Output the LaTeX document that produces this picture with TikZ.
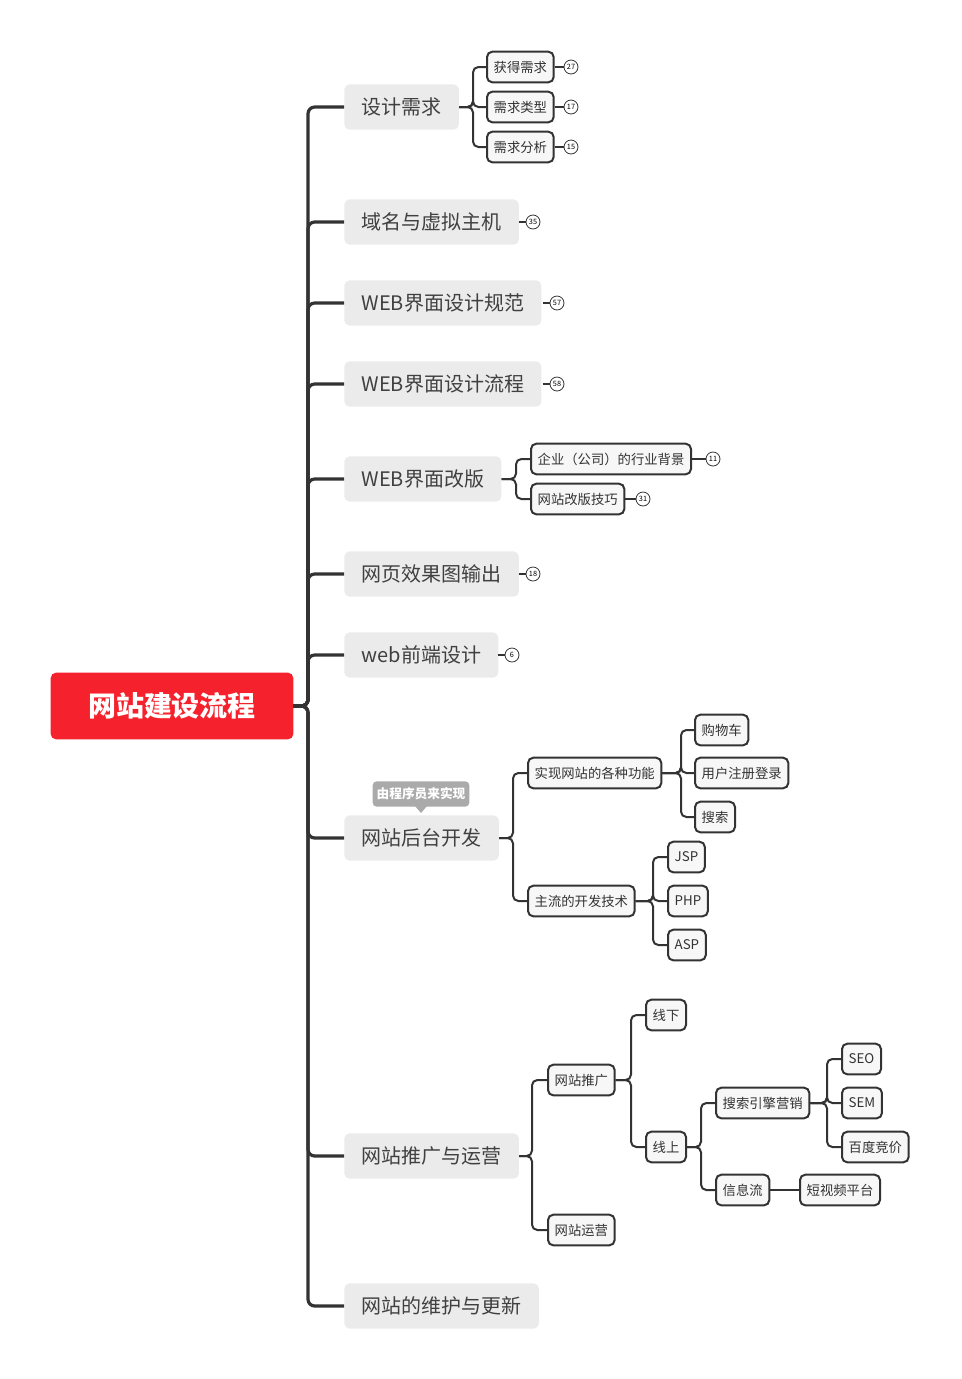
\documentclass[tikz,border=0pt]{standalone}
\usepackage{fontspec}
\setmainfont{Noto Sans CJK SC}
\usetikzlibrary{calc}
\definecolor{rootred}{HTML}{F5222D}
\definecolor{maingray}{HTML}{EBEBEB}
\definecolor{subfill}{HTML}{F7F7F7}
\definecolor{linegray}{HTML}{333333}
\definecolor{tipgray}{HTML}{AAAAAA}
\begin{document}
\begin{tikzpicture}[x=0.75pt,y=-0.75pt,
   root/.style={fill=rootred,rounded corners=4pt,text=white,font=\fontsize{21}{24}\selectfont\bfseries,minimum width=182pt,minimum height=50pt},
   topic/.style={anchor=west,fill=maingray,rounded corners=4pt,text=black!75,font=\fontsize{15}{18}\selectfont,inner xsep=13pt,minimum height=34pt},
   sub/.style={anchor=west,draw=linegray,line width=1.5pt,fill=subfill,rounded corners=4pt,text=black!80,font=\fontsize{10}{11}\selectfont,inner xsep=5pt,minimum height=23pt},
   badge/.style={circle,draw=linegray,line width=0.6pt,inner sep=0pt,minimum size=10.5pt,font=\fontsize{5.5}{6}\selectfont},
   link/.style={draw=linegray,line width=2.4pt,rounded corners=5pt},
   twig/.style={draw=linegray,line width=1.5pt,rounded corners=4pt}]
\useasboundingbox (0,0) rectangle (962,1379);
% root and main bus
\node[root] (R) at (172,706) {网站建设流程};
\coordinate (b0) at (308,0);
\node[topic] (T1) at (344,107) {设计需求};
\node[topic] (T2) at (344,222) {域名与虚拟主机};
\node[topic] (T3) at (344,303) {WEB界面设计规范};
\node[topic] (T4) at (344,384) {WEB界面设计流程};
\node[topic] (T5) at (344,479) {WEB界面改版};
\node[topic] (T6) at (344,574) {网页效果图输出};
\node[topic] (T7) at (344,655) {web前端设计};
\node[topic] (T8) at (344,838) {网站后台开发};
\node[topic] (T9) at (344,1156) {网站推广与运营};
\node[topic] (T10) at (344,1306) {网站的维护与更新};
\foreach \t in {T1,T2,T3,T4,T5,T6,T7,T8,T9,T10}
  \draw[link] (R.east) -- (R.east -| b0) |- (\t.west);
% callout
\node[fill=tipgray,rounded corners=3pt,text=white,font=\fontsize{9.5}{10}\selectfont\bfseries,minimum height=19pt,inner xsep=3pt] (tip) at (421,794) {由程序员来实现};
\fill[tipgray] (415,806) -- (427,806) -- (421,813) -- cycle;
% design needs
\coordinate (b1) at (473,0);
\node[sub] (S11) at (486,67) {获得需求};
\node[sub] (S12) at (486,107) {需求类型};
\node[sub] (S13) at (486,147) {需求分析};
\foreach \s in {S11,S12,S13} \draw[twig] (T1.east) -- (T1.east -| b1) |- (\s.west);
% redesign
\coordinate (b5) at (516,0);
\node[sub] (S51) at (530,459) {企业（公司）的行业背景};
\node[sub] (S52) at (530,499) {网站改版技巧};
\foreach \s in {S51,S52} \draw[twig] (T5.east) -- (T5.east -| b5) |- (\s.west);
% backend
\coordinate (b8) at (513,0);
\node[sub] (S81) at (527,773) {实现网站的各种功能};
\node[sub] (S82) at (527,901) {主流的开发技术};
\foreach \s in {S81,S82} \draw[twig] (T8.east) -- (T8.east -| b8) |- (\s.west);
\coordinate (b81) at (681,0);
\node[sub] (F1) at (694,730) {购物车};
\node[sub] (F2) at (694,773) {用户注册登录};
\node[sub] (F3) at (694,817) {搜索};
\foreach \s in {F1,F2,F3} \draw[twig] (S81.east) -- (S81.east -| b81) |- (\s.west);
\coordinate (b82) at (653,0);
\node[sub] (L1) at (667,857) {JSP};
\node[sub] (L2) at (667,901) {PHP};
\node[sub] (L3) at (667,945) {ASP};
\foreach \s in {L1,L2,L3} \draw[twig] (S82.east) -- (S82.east -| b82) |- (\s.west);
% promotion
\coordinate (b9) at (532,0);
\node[sub] (S91) at (547,1080) {网站推广};
\node[sub] (S92) at (547,1230) {网站运营};
\foreach \s in {S91,S92} \draw[twig] (T9.east) -- (T9.east -| b9) |- (\s.west);
\coordinate (b91) at (631,0);
\node[sub] (P1) at (645,1015) {线下};
\node[sub] (P2) at (645,1147) {线上};
\foreach \s in {P1,P2} \draw[twig] (S91.east) -- (S91.east -| b91) |- (\s.west);
\coordinate (b92) at (701,0);
\node[sub] (Q1) at (715,1103) {搜索引擎营销};
\node[sub] (Q2) at (715,1190) {信息流};
\foreach \s in {Q1,Q2} \draw[twig] (P2.east) -- (P2.east -| b92) |- (\s.west);
\coordinate (b93) at (827,0);
\node[sub] (E1) at (841,1059) {SEO};
\node[sub] (E2) at (841,1103) {SEM};
\node[sub] (E3) at (841,1147) {百度竞价};
\foreach \s in {E1,E2,E3} \draw[twig] (Q1.east) -- (Q1.east -| b93) |- (\s.west);
\node[sub] (V1) at (799,1190) {短视频平台};
\draw[twig] (Q2) -- (V1);
% badges
\node[badge] (n1) at (571,67) {27};
\node[badge] (n2) at (571,107) {17};
\node[badge] (n3) at (571,147) {15};
\node[badge] (n4) at (533,222) {35};
\node[badge] (n5) at (557,303) {57};
\node[badge] (n6) at (557,384) {58};
\node[badge] (n7) at (713,459) {11};
\node[badge] (n8) at (643,499) {31};
\node[badge] (n9) at (533,574) {18};
\node[badge] (n10) at (512,655) {6};
\foreach \a/\b in {S11/n1,S12/n2,S13/n3,S51/n7,S52/n8}
  \draw[twig] (\a.east) -- (\b.west);
\foreach \b in {n4,n5,n6,n9,n10}
  \draw[twig] ($(\b.west)+(-7,0)$) -- (\b.west);
\end{tikzpicture}
\end{document}
